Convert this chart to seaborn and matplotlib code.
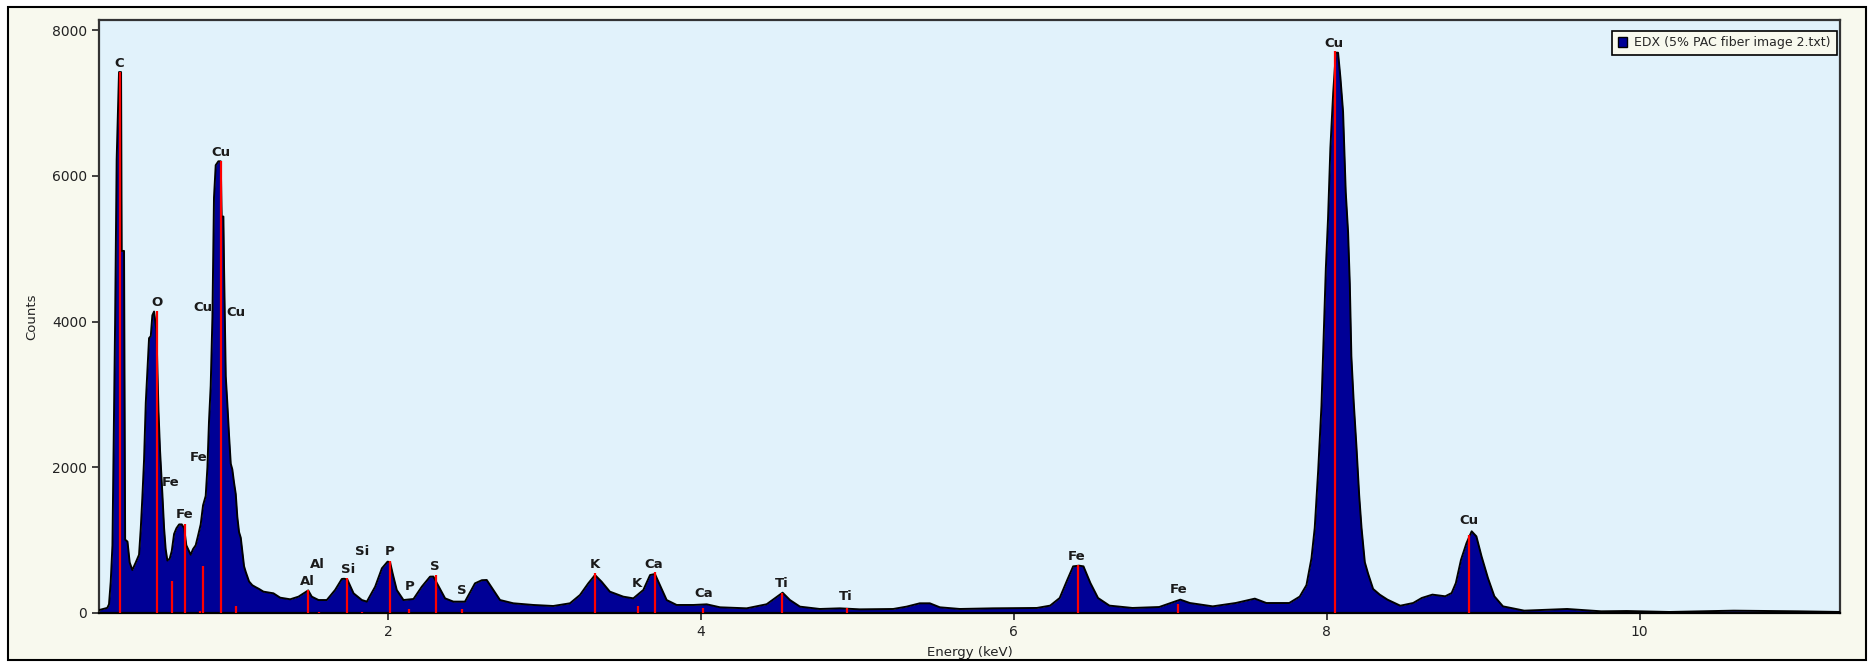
import matplotlib
matplotlib.use("Agg")
import matplotlib.pyplot as plt
from matplotlib.patches import Rectangle, Patch
import pandas as pd
import seaborn as sns

# spectrum (energy in keV, counts)
energy_kev = [
    0.153, 0.206, 0.217, 0.228, 0.239, 0.256, 0.266, 0.281, 0.294, 0.298,
    0.313, 0.320, 0.335, 0.349, 0.366, 0.388, 0.409, 0.420, 0.430, 0.441,
    0.452, 0.462, 0.473, 0.484, 0.494, 0.505, 0.520, 0.533, 0.543, 0.558,
    0.569, 0.579, 0.590, 0.605, 0.618, 0.633, 0.648, 0.665, 0.682, 0.697,
    0.711, 0.728, 0.739, 0.754, 0.771, 0.786, 0.803, 0.818, 0.835, 0.846,
    0.856, 0.867, 0.878, 0.888, 0.899, 0.916, 0.931, 0.937, 0.948, 0.952,
    0.963, 0.973, 0.984, 0.995, 1.005, 1.016, 1.027, 1.037, 1.048, 1.059,
    1.069, 1.080, 1.091, 1.112, 1.133, 1.154, 1.176, 1.204, 1.268, 1.311,
    1.375, 1.428, 1.471, 1.490, 1.513, 1.556, 1.609, 1.662, 1.705, 1.720,
    1.740, 1.780, 1.833, 1.865, 1.918, 1.961, 1.997, 2.013, 2.030, 2.056,
    2.099, 2.163, 2.216, 2.269, 2.290, 2.320, 2.365, 2.418, 2.492, 2.556,
    2.600, 2.631, 2.673, 2.716, 2.801, 2.929, 3.056, 3.163, 3.227, 3.280,
    3.323, 3.365, 3.418, 3.504, 3.568, 3.632, 3.675, 3.706, 3.738, 3.781,
    3.845, 3.952, 4.037, 4.122, 4.292, 4.420, 4.484, 4.522, 4.569, 4.633,
    4.760, 4.888, 5.016, 5.229, 5.314, 5.399, 5.463, 5.527, 5.655, 5.868,
    6.147, 6.232, 6.293, 6.342, 6.379, 6.416, 6.445, 6.489, 6.538, 6.611,
    6.758, 6.929, 7.002, 7.064, 7.125, 7.271, 7.418, 7.540, 7.614, 7.760,
    7.827, 7.870, 7.902, 7.923, 7.945, 7.966, 7.977, 7.994, 8.008, 8.023,
    8.041, 8.058, 8.072, 8.087, 8.104, 8.121, 8.136, 8.147, 8.157, 8.172,
    8.190, 8.207, 8.222, 8.243, 8.264, 8.296, 8.339, 8.388, 8.470, 8.552,
    8.607, 8.675, 8.757, 8.798, 8.825, 8.858, 8.893, 8.926, 8.956, 8.989,
    9.030, 9.071, 9.126, 9.262, 9.536, 9.754, 9.918, 10.19, 10.60, 11.01,
    11.28,
]
counts = [
    40, 70, 120, 430, 930, 3980, 6225, 7425, 7425, 4970,
    4970, 1007, 980, 694, 590, 694, 800, 1160, 1580, 2100,
    2885, 3300, 3773, 3800, 4086, 4138, 3877, 2781, 2233, 1633,
    1164, 877, 720, 746, 850, 1085, 1164, 1216, 1216, 1164,
    930, 850, 800, 877, 930, 1060, 1216, 1477, 1607, 2000,
    2625, 3120, 4060, 5703, 6147, 6200, 6200, 5442, 5442, 4764,
    3251, 2885, 2442, 2050, 1972, 1790, 1633, 1320, 1111, 1033,
    850, 642, 563, 433, 381, 355, 330, 293, 270, 210,
    188, 224, 284, 310, 224, 178, 178, 316, 467, 470,
    460, 270, 178, 156, 361, 613, 704, 700, 540, 316,
    178, 192, 361, 499, 500, 380, 201, 156, 156, 407,
    450, 453, 316, 178, 133, 110, 96, 133, 247, 407,
    521, 430, 293, 224, 201, 316, 521, 535, 384, 178,
    110, 110, 119, 78, 64, 120, 220, 279, 178, 87,
    55, 64, 50, 55, 87, 133, 133, 78, 55, 64,
    69, 101, 206, 457, 640, 650, 640, 412, 206, 101,
    69, 82, 137, 183, 137, 91, 137, 197, 137, 137,
    225, 382, 749, 1168, 1954, 2845, 3578, 4731, 5412, 6381,
    7141, 7691, 7691, 7350, 6879, 5779, 5228, 4521, 3526, 2897,
    2268, 1614, 1168, 697, 540, 330, 251, 183, 100, 137,
    206, 252, 229, 274, 412, 732, 960, 1121, 1052, 778,
    480, 229, 91, 32, 55, 23, 27, 14, 32, 23,
    14,
]

# red element marker lines
line_energy = [0.288, 0.526, 0.618, 0.703, 0.799, 0.818, 0.933, 1.027,
               1.491, 1.559, 1.740, 1.832, 2.013, 2.136, 2.307, 2.470,
               3.323, 3.595, 3.706, 4.015, 4.519, 4.931, 6.408, 7.051,
               8.050, 8.910]
line_height = [7425, 4140, 433, 1226, 30, 642, 6200, 94,
               316, 18, 476, 18, 718, 59, 517, 59,
               544, 101, 567, 73, 279, 64, 663, 128,
               7717, 1075]

# element labels
label_text = ["C", "O", "Fe", "Fe", "Fe", "Cu", "Cu", "Cu", "Al", "Al",
              "Si", "Si", "P", "P", "S", "S", "K", "K", "Ca", "Ca",
              "Ti", "Ti", "Fe", "Fe", "Cu", "Cu"]
label_energy = [0.285, 0.525, 0.612, 0.700, 0.788, 0.815, 0.930, 1.027,
                1.485, 1.551, 1.747, 1.832, 2.013, 2.136, 2.302, 2.470,
                3.323, 3.590, 3.700, 4.015, 4.515, 4.925, 6.403, 7.051,
                8.045, 8.910]
label_counts = [7540, 4260, 1790, 1350, 2130, 4200, 6315, 4130, 430, 672,
                599, 842, 851, 361, 636, 306, 659, 407, 672, 270,
                407, 224, 778, 320, 7822, 1272]

legend_label = "EDX (5% PAC fiber image 2.txt)"

df = pd.DataFrame({"Energy": energy_kev, "Counts": counts})

sns.set_style("white")
plt.rcParams["font.family"] = ["DejaVu Sans"]

W, H = 1873, 663
fig = plt.figure(figsize=(W / 100, H / 100), dpi=100, facecolor="white")

# outer cream panel with black frame
fig.add_artist(Rectangle((8 / W, 1 - 660 / H), (1866 - 8) / W, (660 - 7) / H,
                         transform=fig.transFigure, facecolor="#F8F9EE",
                         edgecolor="black", lw=1.5, zorder=-1))

ax = fig.add_axes([99 / W, 1 - 613 / H, (1840 - 99) / W, (613 - 20) / H])
ax.set_facecolor("#E1F2FB")

navy = "#000096"
ax.fill_between(df["Energy"], df["Counts"], color=navy, lw=0, zorder=2)
sns.lineplot(data=df, x="Energy", y="Counts", color="black", lw=1.4,
             ax=ax, zorder=3, sort=False)

ax.vlines(line_energy, 0, line_height, color="#FF0000", lw=1.6, zorder=4)

for t, e, c in zip(label_text, label_energy, label_counts):
    ax.text(e, c, t, ha="center", va="center", fontsize=9.5,
            fontweight="bold", color="#1A1A1A", zorder=5)

ax.set_xlim(0.153, 11.28)
ax.set_ylim(0, 8140)
ax.set_xticks([2, 4, 6, 8, 10])
ax.set_yticks([0, 2000, 4000, 6000, 8000])
ax.tick_params(axis="both", direction="out", length=5, width=1.2,
               labelsize=10, colors="#222222", bottom=True, left=True)

for side in ["left", "top", "right", "bottom"]:
    ax.spines[side].set_visible(True)
    ax.spines[side].set_color("#333333")
    ax.spines[side].set_linewidth(1.6)
ax.spines["bottom"].set_color("black")

ax.set_xlabel("Energy (keV)", fontsize=9.5, color="#222222")
ax.set_ylabel("Counts", fontsize=9.5, color="#222222")
ax.xaxis.set_label_coords(0.5, -0.055)
ax.yaxis.set_label_coords(-0.035, 0.5)

handle = Patch(facecolor=navy, edgecolor="black", lw=1)
leg = ax.legend([handle], [legend_label], loc="upper right",
                bbox_to_anchor=(0.998, 0.982), borderaxespad=0,
                fontsize=9, frameon=True, fancybox=False,
                handlelength=0.75, handleheight=0.75, handletextpad=0.6,
                borderpad=0.45)
leg.get_frame().set_edgecolor("black")
leg.get_frame().set_facecolor("#F8F9EE")
leg.get_frame().set_alpha(1)
leg.get_frame().set_linewidth(1.2)

fig.savefig("out.png", dpi=100, facecolor=fig.get_facecolor())
